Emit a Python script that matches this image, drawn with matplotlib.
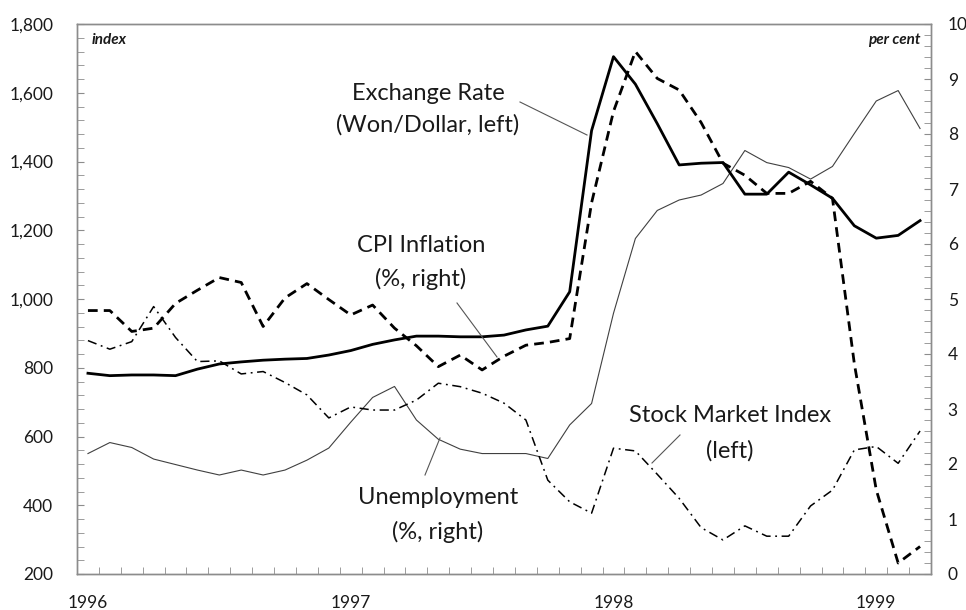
import matplotlib
matplotlib.use("Agg")
import matplotlib.pyplot as plt
from matplotlib.lines import Line2D
from matplotlib.ticker import MultipleLocator, FixedLocator, FuncFormatter
import numpy as np

# ---- data (monthly, Jan 1996 - Mar 1999) ----
months = list(range(39))
exchange_rate = [784, 777, 779, 779, 777, 796, 811, 817, 822, 825, 827, 837,
                 850, 868, 881, 892, 892, 890, 890, 895, 910, 921, 1021, 1490,
                 1705, 1625, 1510, 1390, 1395, 1397, 1305, 1305, 1369, 1332, 1293, 1213,
                 1177, 1185, 1228]
stock_index = [879, 854, 876, 978, 888, 818, 820, 782, 789, 757, 721, 654,
               686, 677, 677, 706, 755, 745, 726, 697, 648, 473, 410, 377,
               566, 558, 490, 420, 335, 299, 340, 310, 310, 398, 444, 561,
               571, 522, 616]
cpi_inflation = [4.79, 4.79, 4.41, 4.47, 4.92, 5.16, 5.39, 5.30, 4.50, 5.02, 5.28, 4.99,
                 4.71, 4.89, 4.47, 4.15, 3.77, 3.98, 3.71, 3.96, 4.16, 4.21, 4.28, 6.75,
                 8.41, 9.50, 9.01, 8.80, 8.21, 7.47, 7.25, 6.92, 6.92, 7.14, 6.83, 3.82,
                 1.53, 0.20, 0.50]
unemployment = [2.19, 2.39, 2.30, 2.09, 1.99, 1.89, 1.80, 1.89, 1.80, 1.89, 2.07, 2.29,
                2.76, 3.21, 3.41, 2.80, 2.45, 2.27, 2.19, 2.19, 2.19, 2.10, 2.71, 3.10,
                4.74, 6.10, 6.61, 6.80, 6.89, 7.10, 7.70, 7.48, 7.39, 7.18, 7.41, 8.01,
                8.60, 8.79, 8.10]
year_labels = ["1996", "1997", "1998", "1999"]
year_positions = [0, 12, 24, 36]

W, H = 966, 610
FONT = ["Lato", "DejaVu Sans"]
plt.rcParams["font.family"] = FONT
TXT = "#1a1a1a"
GRAY = "#8c8c8c"

fig = plt.figure(figsize=(W / 100, H / 100), dpi=100)
ax = fig.add_axes([77 / W, 1 - 574 / H, (931 - 77) / W, (574 - 24) / H])
ax2 = ax.twinx()

# lines
ax2.plot(months, unemployment, color="#404040", lw=0.8, zorder=2)
ax2.plot(months, cpi_inflation, color="black", lw=2.0,
         linestyle=(0, (3.5, 2.2)), zorder=4)
ax.plot(months, stock_index, color="black", lw=1.1,
        linestyle=(0, (6, 3, 1.2, 3)), zorder=3)
ax.plot(months, exchange_rate, color="black", lw=2.0, zorder=5)

# bring primary axis above secondary
ax.set_zorder(ax2.get_zorder() + 1)
ax.patch.set_visible(False)

ax.set_xlim(-0.5, 38.5)
ax.set_ylim(200, 1800)
ax2.set_ylim(0, 10)

# left axis ticks
ax.yaxis.set_major_locator(MultipleLocator(200))
ax.yaxis.set_minor_locator(MultipleLocator(40))
ax.yaxis.set_major_formatter(FuncFormatter(lambda v, p: f"{int(v):,}"))
ax.tick_params(axis="y", which="both", direction="in", length=5, color=GRAY,
               labelsize=12.5, labelcolor=TXT, pad=17)
# right axis ticks
ax2.yaxis.set_major_locator(MultipleLocator(1))
ax2.yaxis.set_minor_locator(MultipleLocator(0.2))
ax2.tick_params(axis="y", which="both", direction="in", length=5, color=GRAY,
                labelsize=12.5, labelcolor=TXT, pad=12)
# bottom axis
ax.xaxis.set_major_locator(FixedLocator(year_positions))
ax.set_xticklabels(year_labels)
ax.xaxis.set_minor_locator(FixedLocator(np.arange(-0.5, 39, 1.0)))
ax.tick_params(axis="x", which="major", length=0, labelsize=12.5,
               labelcolor=TXT, pad=15)
ax.tick_params(axis="x", which="minor", direction="in", length=5, color=GRAY)
ax2.tick_params(axis="x", which="both", length=0)

for a in (ax, ax2):
    for s in a.spines.values():
        s.set_color(GRAY)
        s.set_linewidth(1.0)

# unit labels
ax.text(0.017, 0.983, "index", transform=ax.transAxes, ha="left", va="top",
        fontsize=11, fontstyle="italic", fontweight="bold", color=TXT)
ax.text(0.988, 0.983, "per cent", transform=ax.transAxes, ha="right", va="top",
        fontsize=11, fontstyle="italic", fontweight="bold", color=TXT)

def ftext(x, y, s):
    fig.text(x / W, 1 - y / H, s, ha="center", va="center", fontsize=17,
             color=TXT)

def fline(x0, y0, x1, y1):
    fig.add_artist(Line2D([x0 / W, x1 / W], [1 - y0 / H, 1 - y1 / H],
                          color="#555555", lw=0.8, transform=fig.transFigure))

ftext(428, 93, "Exchange Rate")
ftext(428, 125, "(Won/Dollar, left)")
fline(520, 102, 587, 135)

ftext(421, 245, "CPI Inflation")
ftext(421, 279, "(%, right)")
fline(457, 303, 497, 357)

ftext(438, 498, "Unemployment")
ftext(438, 532, "(%, right)")
fline(425, 475, 440, 438)

ftext(730, 416, "Stock Market Index")
ftext(730, 451, "(left)")
fline(680, 435, 652, 463)

fig.savefig("out.png", dpi=100)
